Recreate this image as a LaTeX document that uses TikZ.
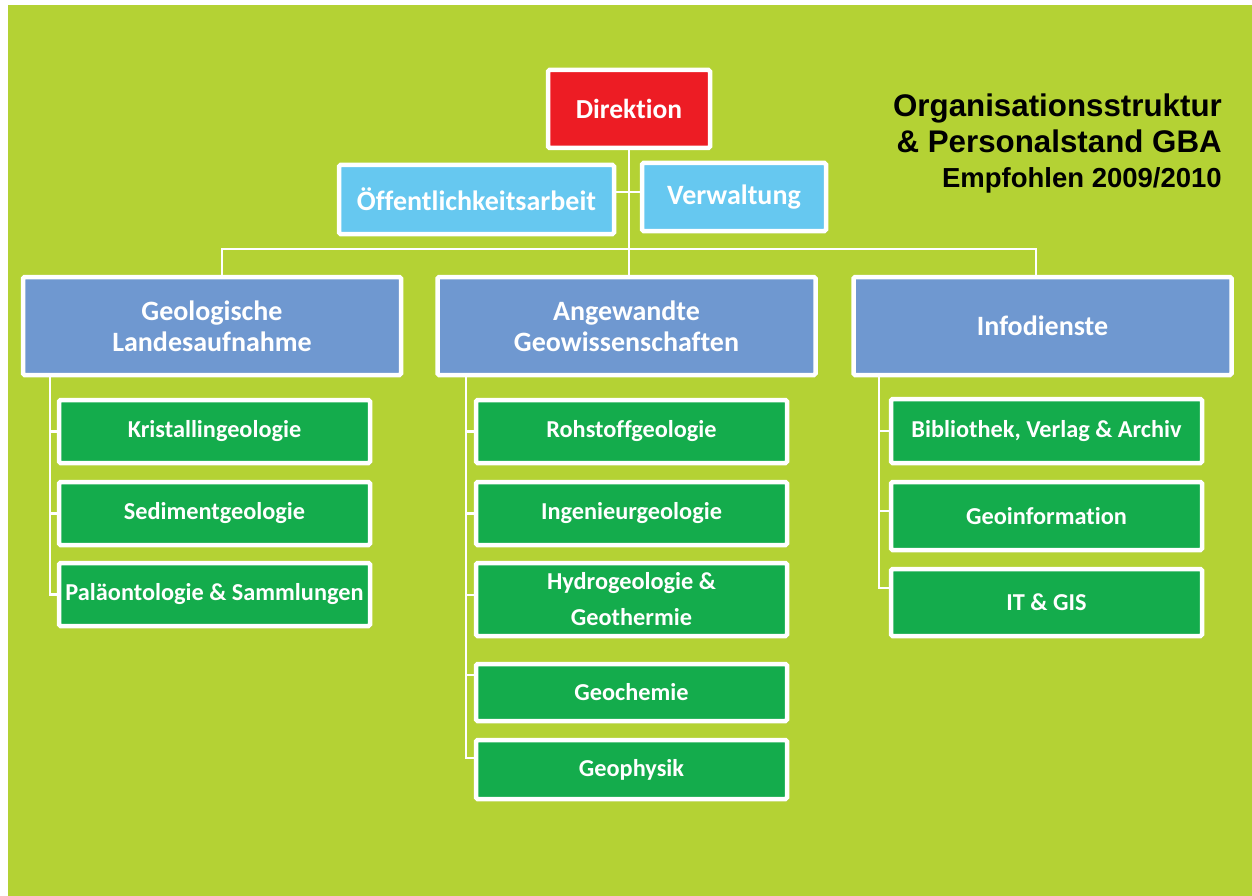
\documentclass[tikz,border=0pt]{standalone}
\usepackage{fontspec}
\setmainfont{Carlito}[Ligatures={NoCommon,NoContextual}]
\newfontfamily\headfont{Liberation Sans}
\usetikzlibrary{shadows}
\definecolor{bggreen}{HTML}{B4D234}
\definecolor{dirred}{HTML}{ED1C24}
\definecolor{staffblue}{HTML}{66C8F0}
\definecolor{deptblue}{HTML}{6F98D0}
\definecolor{unitgreen}{HTML}{14AC4C}
\begin{document}
\begin{tikzpicture}[x=1pt,y=-1pt,
  orgbox/.style={draw=white, line width=4.5pt, rounded corners=1.5pt, text=white,
    align=center, inner sep=0pt,
    drop shadow={shadow xshift=1.5pt, shadow yshift=-2pt, opacity=0.3}},
  headbox/.style={orgbox, fill=dirred, font=\bfseries\fontsize{27.5}{31}\selectfont},
  staffbox/.style={orgbox, fill=staffblue, font=\bfseries\fontsize{28}{31}\selectfont},
  deptbox/.style={orgbox, fill=deptblue, minimum width=378pt, minimum height=98pt,
    font=\bfseries\fontsize{28}{31}\selectfont},
  unitbox/.style={orgbox, fill=unitgreen, minimum width=311pt,
    font=\bfseries\fontsize{24.3}{36}\selectfont},
  conn/.style={draw=white, line width=2.5pt},
  titletext/.style={anchor=base east, inner sep=0pt, text=black}]
\useasboundingbox (0,0) rectangle (1252,896);
\fill[white] (0,0) rectangle (1252,896);
\fill[bggreen] (8,5) rectangle (1252,896);

% title block
\node[titletext, font=\headfont\bfseries\fontsize{31.3}{36}\selectfont] (title1) at (1222,117) {Organisationsstruktur};
\node[titletext, font=\headfont\bfseries\fontsize{31.3}{36}\selectfont] (title2) at (1222,153) {\& Personalstand GBA};
\node[titletext, font=\headfont\bfseries\fontsize{27.5}{32}\selectfont] (title3) at (1222,188) {Empfohlen 2009/2010};

% management and staff units
\node[headbox, minimum width=162pt, minimum height=78pt] (dir) at (629,109) {Direktion};
\node[staffbox, minimum width=275pt, minimum height=69pt] (oeff) at (476.5,199.5) {Öffentlichkeitsarbeit};
\node[staffbox, minimum width=184pt, minimum height=68pt] (verw) at (734,197) {Verwaltung};

% departments
\node[deptbox] (geola) at (212,326) {Geologische\\Landesaufnahme};
\node[deptbox] (angew) at (626.5,326) {Angewandte\\Geowissenschaften};
\node[deptbox] (info) at (1042.5,326) {Infodienste};

% units of Geologische Landesaufnahme
\node[unitbox, minimum height=63pt] (krist) at (214.5,431.5) {Kristallingeologie};
\node[unitbox, minimum height=63pt] (sedi) at (214.5,513.5) {Sedimentgeologie};
\node[unitbox, minimum height=63pt] (palae) at (214.5,594.5) {Paläontologie \& Sammlungen};

% units of Angewandte Geowissenschaften
\node[unitbox, minimum height=63pt] (rohst) at (631.5,431.5) {Rohstoffgeologie};
\node[unitbox, minimum height=63pt] (ingen) at (631.5,513.5) {Ingenieurgeologie};
\node[unitbox, minimum height=73pt] (hydro) at (631.5,599.5) {Hydrogeologie \&\\Geothermie};
\node[unitbox, minimum height=57pt] (gchem) at (631.5,692.5) {Geochemie};
\node[unitbox, minimum height=59pt] (gphys) at (631.5,769.5) {Geophysik};

% units of Infodienste
\node[unitbox, minimum height=64pt] (bibl) at (1046.5,431) {Bibliothek, Verlag \& Archiv};
\node[unitbox, minimum height=68pt] (ginfo) at (1046.5,516) {Geoinformation};
\node[unitbox, minimum height=67pt] (itgis) at (1046.5,602.5) {IT \& GIS};

% connector anchors
\coordinate (staff) at (629,192);
\coordinate (busL) at (222,249);
\coordinate (busR) at (1036,249);
\coordinate (trunkL) at (50,0);
\coordinate (trunkM) at (466,0);
\coordinate (trunkR) at (879,0);

% top level
\draw[conn] (dir.south) -- (dir.south |- angew.north);
\draw[conn] (oeff.east |- staff) -- (verw.west |- staff);
\draw[conn] (busL |- geola.north) -- (busL) -- (busR) -- (busR |- info.north);

% left column
\draw[conn] (trunkL |- geola.south) |- (krist.west);
\draw[conn] (trunkL |- geola.south) |- (sedi.west);
\draw[conn] (trunkL |- geola.south) |- (palae.west);

% middle column
\draw[conn] (trunkM |- angew.south) |- (rohst.west);
\draw[conn] (trunkM |- angew.south) |- (ingen.west);
\draw[conn] (trunkM |- angew.south) |- ([yshift=4.5pt]hydro.west);
\draw[conn] (trunkM |- angew.south) |- ([yshift=17.5pt]gchem.west);
\draw[conn] (trunkM |- angew.south) |- ([yshift=11.5pt]gphys.west);

% right column
\draw[conn] (trunkR |- info.south) |- (bibl.west);
\draw[conn] (trunkR |- info.south) |- ([yshift=5pt]ginfo.west);
\draw[conn] (trunkR |- info.south) |- ([yshift=14.5pt]itgis.west);
\end{tikzpicture}
\end{document}
